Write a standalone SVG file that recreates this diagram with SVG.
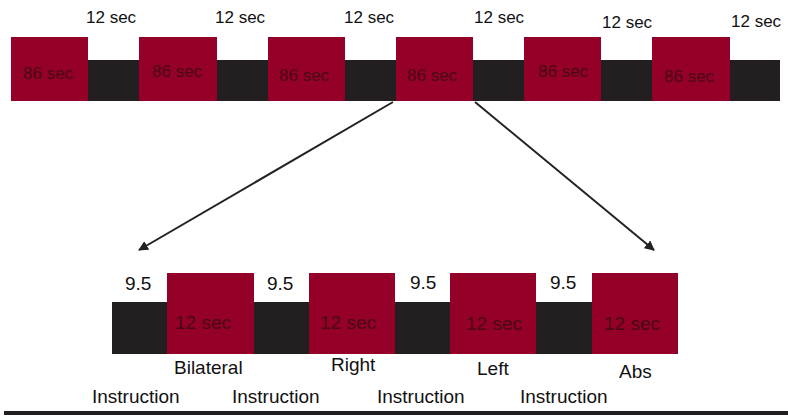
<svg xmlns="http://www.w3.org/2000/svg" width="788" height="416" viewBox="0 0 788 416">
  <defs>
    <style>
      .blk { fill: #231f20; }
      .red { fill: #950029; }
      .t { font-family: "Liberation Sans", Arial, sans-serif; fill: #111; }
      .top { font-size: 17px; }
      .bot { font-size: 19px; }
      .in { fill: #4a0812; }
      .conn { stroke: #222; stroke-width: 2; fill: none; marker-end: url(#head); }
    </style>
    <marker id="head" viewBox="0 0 10 10" refX="9" refY="5" markerWidth="5" markerHeight="5" orient="auto" markerUnits="strokeWidth">
      <path d="M0,0 L10,5 L0,10 z" fill="#222"/>
    </marker>
  </defs>
  <rect width="788" height="416" fill="#fff"/>

  <!-- upper timeline: baseline strip -->
  <g id="top-strip">
    <rect class="blk" x="11" y="60" width="769" height="41"/>
  </g>
  <g id="top-block-1">
    <rect class="red" x="11" y="37" width="77" height="64"/>
    <text class="t top in" x="23" y="79">86 sec</text>
    <text class="t top" x="86" y="23">12 sec</text>
  </g>
  <g id="top-block-2">
    <rect class="red" x="139" y="37" width="78" height="64"/>
    <text class="t top in" x="152" y="77">86 sec</text>
    <text class="t top" x="215" y="23">12 sec</text>
  </g>
  <g id="top-block-3">
    <rect class="red" x="268" y="37" width="77" height="64"/>
    <text class="t top in" x="279" y="81">86 sec</text>
    <text class="t top" x="344" y="23">12 sec</text>
  </g>
  <g id="top-block-4">
    <rect class="red" x="396" y="37" width="77" height="64"/>
    <text class="t top in" x="407" y="81">86 sec</text>
    <text class="t top" x="474" y="23">12 sec</text>
  </g>
  <g id="top-block-5">
    <rect class="red" x="524" y="37" width="77" height="64"/>
    <text class="t top in" x="538" y="77">86 sec</text>
    <text class="t top" x="602" y="28">12 sec</text>
  </g>
  <g id="top-block-6">
    <rect class="red" x="652" y="37" width="78" height="64"/>
    <text class="t top in" x="664" y="82">86 sec</text>
    <text class="t top" x="731" y="27">12 sec</text>
  </g>

  <!-- expansion connectors -->
  <g id="connectors">
    <line class="conn" x1="393" y1="102" x2="139" y2="250"/>
    <line class="conn" x1="475" y1="102" x2="654" y2="250"/>
  </g>

  <!-- lower timeline -->
  <g id="bottom-strip">
    <rect class="blk" x="112" y="302" width="480" height="52"/>
  </g>
  <g id="bilateral">
    <text class="t bot" x="125" y="290">9.5</text>
    <rect class="red" x="167" y="273" width="87" height="81"/>
    <text class="t bot in" x="175" y="329">12 sec</text>
    <text class="t bot" x="174" y="374">Bilateral</text>
    <text class="t bot" x="92" y="403">Instruction</text>
  </g>
  <g id="right">
    <text class="t bot" x="267" y="290">9.5</text>
    <rect class="red" x="309" y="273" width="86" height="81"/>
    <text class="t bot in" x="320" y="329">12 sec</text>
    <text class="t bot" x="331" y="371">Right</text>
    <text class="t bot" x="232" y="403">Instruction</text>
  </g>
  <g id="left">
    <text class="t bot" x="410" y="289">9.5</text>
    <rect class="red" x="450" y="273" width="86" height="81"/>
    <text class="t bot in" x="466" y="330">12 sec</text>
    <text class="t bot" x="477" y="375">Left</text>
    <text class="t bot" x="377" y="403">Instruction</text>
  </g>
  <g id="abs">
    <text class="t bot" x="550" y="289">9.5</text>
    <rect class="red" x="592" y="273" width="86" height="81"/>
    <text class="t bot in" x="604" y="330">12 sec</text>
    <text class="t bot" x="619" y="378">Abs</text>
    <text class="t bot" x="520" y="403">Instruction</text>
  </g>

  <!-- bottom rule -->
  <rect class="blk" x="4" y="411" width="784" height="4" fill="#000"/>
</svg>
